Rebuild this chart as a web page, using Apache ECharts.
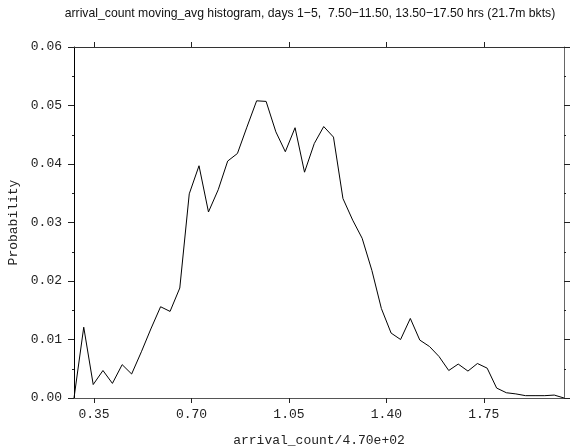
<!DOCTYPE html>
<html>
<head>
<meta charset="utf-8">
<script src="https://cdn.jsdelivr.net/npm/echarts@6/dist/echarts.min.js"></script>
<style>
  html, body { margin: 0; padding: 0; background: #fff; }
  #chart { width: 580px; height: 448px; }
</style>
</head>
<body>
<div id="chart"></div>
<script>
// Bin positions (arrival_count / 470) and moving-average histogram probabilities
const binX = [
  0.278, 0.313, 0.347, 0.382, 0.416, 0.451, 0.485, 0.520, 0.554, 0.589,
  0.623, 0.658, 0.692, 0.727, 0.761, 0.796, 0.830, 0.865, 0.899, 0.934,
  0.968, 1.003, 1.037, 1.072, 1.106, 1.141, 1.175, 1.210, 1.244, 1.279,
  1.313, 1.348, 1.382, 1.417, 1.451, 1.486, 1.520, 1.555, 1.589, 1.624,
  1.658, 1.693, 1.727, 1.762, 1.796, 1.831, 1.865, 1.900, 1.934, 1.969,
  2.003, 2.038
];
const probability = [
  0.0000, 0.0121, 0.0023, 0.0047, 0.0025, 0.0057, 0.0041, 0.0079, 0.0118, 0.0156,
  0.0148, 0.0188, 0.0349, 0.0397, 0.0318, 0.0356, 0.0405, 0.0418, 0.0463, 0.0508,
  0.0507, 0.0455, 0.0421, 0.0462, 0.0386, 0.0435, 0.0464, 0.0446, 0.0341, 0.0304,
  0.0273, 0.0218, 0.0153, 0.0111, 0.0100, 0.0136, 0.0099, 0.0088, 0.0071, 0.0047,
  0.0058, 0.0046, 0.0059, 0.0051, 0.0017, 0.0009, 0.0007, 0.0004, 0.0004, 0.0004,
  0.0005, 0.0000
];
const xTicks = [0.35, 0.70, 1.05, 1.40, 1.75];
const xRange = [0.278, 2.038];
const yRange = [0, 0.06];

const titleText = 'arrival_count moving_avg histogram, days 1\u22125,  7.50\u221211.50, 13.50\u221217.50 hrs (21.7m bkts)';
const mono = '"Liberation Mono", "DejaVu Sans Mono", monospace';

const points = binX.map((x, i) => [x, probability[i]]);

function xAxisCfg(showLabels, pos, color) {
  return {
    type: 'value', position: pos,
    min: xRange[0], max: xRange[1],
    name: showLabels ? 'arrival_count/4.70e+02' : '',
    nameLocation: 'middle', nameGap: 36,
    nameTextStyle: { fontFamily: mono, fontSize: 13, color: '#222' },
    axisLine: { show: true, onZero: false, lineStyle: { color: color, width: 1 } },
    axisTick: { show: true, inside: false, length: 5, customValues: xTicks, lineStyle: { color: '#222' } },
    axisLabel: {
      show: showLabels, customValues: xTicks, margin: 10,
      fontFamily: mono, fontSize: 13, color: '#222',
      formatter: v => v.toFixed(2)
    },
    splitLine: { show: false }
  };
}
function yAxisCfg(showLabels, pos, color) {
  return {
    type: 'value', position: pos,
    min: yRange[0], max: yRange[1], interval: 0.01,
    name: showLabels ? 'Probability' : '',
    nameLocation: 'middle', nameGap: 54, nameRotate: 90,
    nameTextStyle: { fontFamily: mono, fontSize: 13, color: '#222' },
    axisLine: { show: true, lineStyle: { color: color, width: 1 } },
    axisTick: { show: true, inside: false, length: 6, lineStyle: { color: '#222' } },
    minorTick: { show: true, splitNumber: 2, length: 2, lineStyle: { color: '#222' } },
    axisLabel: {
      show: showLabels, margin: 12,
      fontFamily: mono, fontSize: 13, color: '#222',
      formatter: v => v.toFixed(2)
    },
    splitLine: { show: false },
    minorSplitLine: { show: false }
  };
}

const chart = echarts.init(document.getElementById('chart'), null, { renderer: 'canvas' });
chart.setOption({
  backgroundColor: '#fff',
  animation: false,
  // narrow title: regular sans squeezed horizontally
  graphic: [{
    type: 'text', x: 310, y: 7, scaleX: 0.94, scaleY: 1,
    style: {
      text: titleText, align: 'center', verticalAlign: 'top',
      font: 'normal 13px "Liberation Sans", Arial, sans-serif', fill: '#111'
    }
  }],
  grid: { left: 74, top: 47, width: 490, height: 351, containLabel: false, outerBoundsMode: 'none' },
  xAxis: [xAxisCfg(true, 'bottom', '#555'), xAxisCfg(false, 'top', '#333')],
  yAxis: [yAxisCfg(true, 'left', '#000'), yAxisCfg(false, 'right', '#666')],
  series: [{
    type: 'line', data: points, showSymbol: false, symbol: 'none',
    lineStyle: { color: '#000', width: 1 }, silent: true
  }]
});
</script>
</body>
</html>
